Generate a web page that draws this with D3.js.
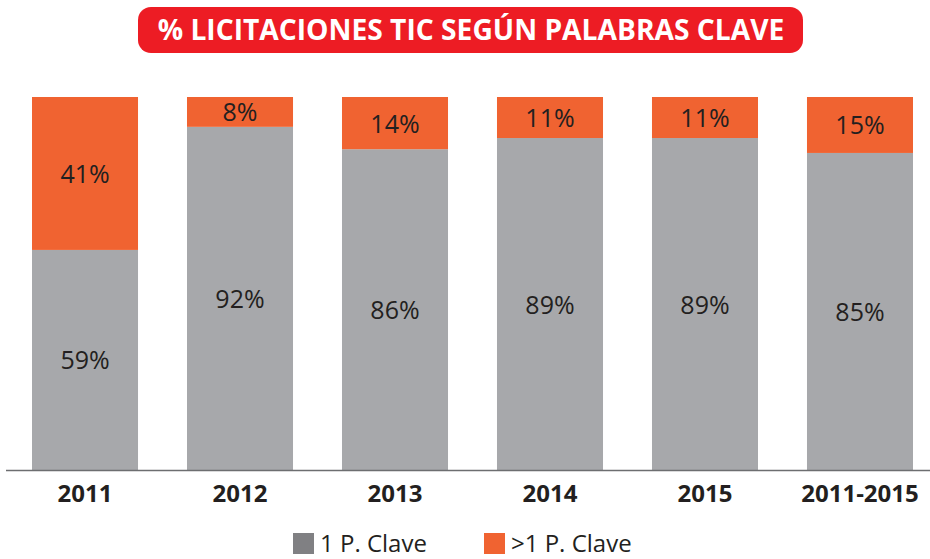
<!DOCTYPE html>
<html>
<head>
<meta charset="utf-8">
<script src="https://cdn.jsdelivr.net/npm/d3@7"></script>
<style>
  body { margin: 0; background: #fff; }
  svg { display: block; font-family: "Open Sans", sans-serif; }
</style>
</head>
<body>
<svg id="chart"></svg>
<script>
const categories = ['2011', '2012', '2013', '2014', '2015', '2011-2015'];
const onePClave = [59, 92, 86, 89, 89, 85];
const morePClave = [41, 8, 14, 11, 11, 15];
const seriesNames = ['1 P. Clave', '>1 P. Clave'];
const title = '% LICITACIONES TIC SEGÚN PALABRAS CLAVE';

let w = 930;
let h = 559;

let marginT = 97;
let marginB = 89;   // baseline at 470
let marginL = 32;
let marginR = 17;

let chart = d3.select('#chart')
  .attr('width', w)
  .attr('height', h);

let rows = categories.map((c, i) => ({ cat: c, one: onePClave[i], more: morePClave[i] }));

let xScale = d3.scaleBand()
  .domain(categories)
  .range([marginL, w - marginR])
  .paddingInner(0.316)
  .paddingOuter(0);

let yScale = d3.scaleLinear()
  .domain([0, 100])
  .range([h - marginB, marginT]);

let stack = d3.stack().keys(['one', 'more']);
let stacked = stack(rows);

let colors = ['#a7a8ab', '#f06331'];
let legendColors = ['#808083', '#f06331'];

// title box
chart.append('rect')
  .attr('x', 138)
  .attr('y', 7)
  .attr('width', 665)
  .attr('height', 46)
  .attr('rx', 13)
  .attr('fill', '#ed1c24');

let t = chart.append('text')
  .attr('x', 471)
  .attr('y', 40)
  .attr('text-anchor', 'middle')
  .attr('fill', '#fff')
  .style('font-weight', 'bold')
  .style('font-size', '28px')
  .text(title);
// fit width to the reference
let tl = t.node().getComputedTextLength();
t.style('font-size', (28 * 627 / tl) + 'px');

// bars
let groups = chart.selectAll('g.series')
  .data(stacked)
  .enter()
  .append('g')
  .attr('class', 'series')
  .attr('fill', (d, i) => colors[i]);

groups.selectAll('rect')
  .data(d => d)
  .enter()
  .append('rect')
  .attr('x', d => xScale(d.data.cat))
  .attr('y', d => yScale(d[1]))
  .attr('width', xScale.bandwidth())
  .attr('height', d => yScale(d[0]) - yScale(d[1]));

groups.selectAll('text')
  .data(d => d)
  .enter()
  .append('text')
  .attr('x', d => xScale(d.data.cat) + xScale.bandwidth() / 2)
  .attr('y', d => (yScale(d[0]) + yScale(d[1])) / 2)
  .attr('dy', '0.38em')
  .attr('text-anchor', 'middle')
  .attr('fill', '#231f20')
  .style('font-size', '25px')
  .text(d => (d[1] - d[0]) + '%');

// baseline
chart.append('line')
  .attr('x1', 6)
  .attr('x2', w)
  .attr('y1', yScale(0) + 0.5)
  .attr('y2', yScale(0) + 0.5)
  .attr('stroke', '#6d6e70')
  .attr('stroke-width', 1.5);

// category labels
let xAxis = d3.axisBottom(xScale).tickSize(0).tickPadding(0);
let ax = chart.append('g')
  .attr('transform', `translate(0, ${yScale(0)})`)
  .call(xAxis);
ax.select('.domain').remove();
ax.selectAll('text')
  .attr('y', 32)
  .attr('dy', 0)
  .attr('fill', '#231f20')
  .style('font-family', '"Open Sans", sans-serif')
  .style('font-weight', 'bold')
  .style('font-size', '24px');

// legend
let legendX = [293, 484];
let legend = chart.selectAll('g.legend')
  .data(seriesNames)
  .enter()
  .append('g')
  .attr('class', 'legend')
  .attr('transform', (d, i) => `translate(${legendX[i]}, 533)`);

legend.append('rect')
  .attr('width', 21)
  .attr('height', 21)
  .attr('fill', (d, i) => legendColors[i]);

legend.append('text')
  .attr('x', 27)
  .attr('y', 19)
  .attr('fill', '#231f20')
  .style('font-size', '24px')
  .text(d => d);
</script>
</body>
</html>
